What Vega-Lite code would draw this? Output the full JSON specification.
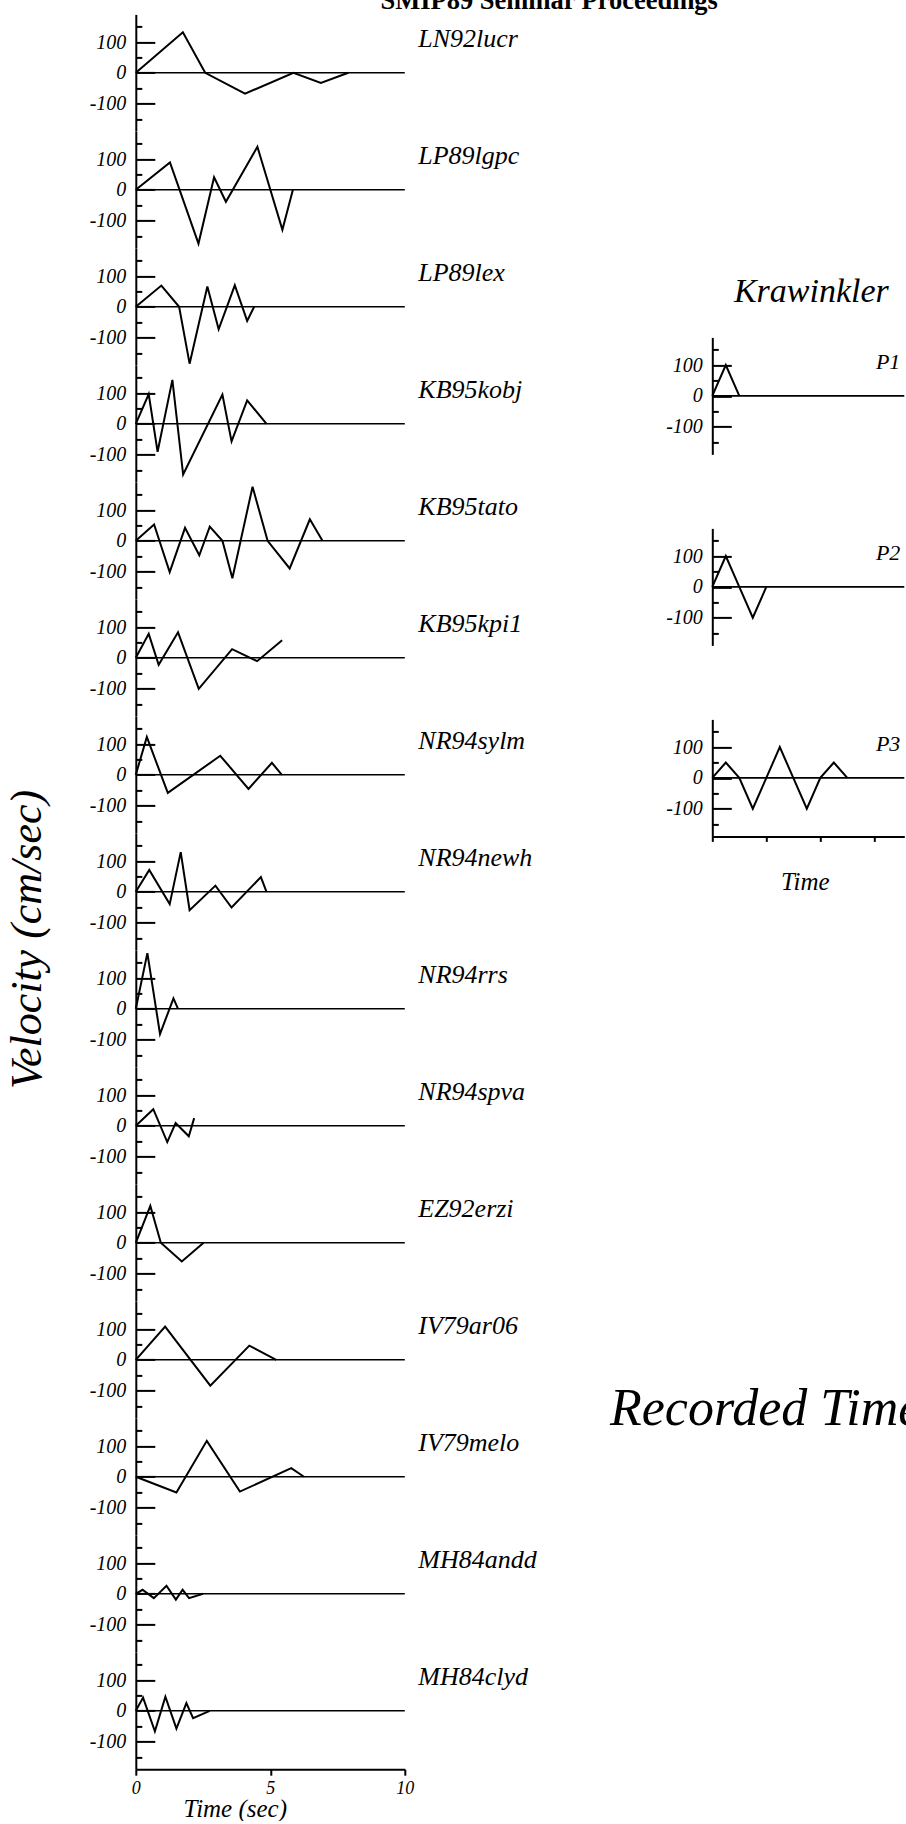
{
"$schema":"https://vega.github.io/schema/vega-lite/v6.json",
"padding":{"left":4.8,"top":-12.6,"right":0,"bottom":0},
"autosize":{"type":"pad"},
"background":"white",
"title":{"text":"SMIP89 Seminar Proceedings","anchor":"start","frame":"bounds","fontSize":26.5,"fontWeight":"bold","font":"Liberation Serif","color":"black","baseline":"alphabetic","offset":-20.8,"dx":375.2},
"datasets":{
"left":[
{"s":"LN92lucr","t":0,"v":0},{"s":"LN92lucr","t":1.75,"v":132},{"s":"LN92lucr","t":2.58,"v":0},{"s":"LN92lucr","t":4.06,"v":-68},{"s":"LN92lucr","t":5.86,"v":0},{"s":"LN92lucr","t":6.88,"v":-33},{"s":"LN92lucr","t":7.9,"v":0},
{"s":"LP89lgpc","t":0,"v":0},{"s":"LP89lgpc","t":1.27,"v":89},{"s":"LP89lgpc","t":2.33,"v":-175},{"s":"LP89lgpc","t":2.91,"v":41},{"s":"LP89lgpc","t":3.35,"v":-39},{"s":"LP89lgpc","t":4.52,"v":140},{"s":"LP89lgpc","t":5.45,"v":-130},{"s":"LP89lgpc","t":5.84,"v":0},
{"s":"LP89lex","t":0,"v":0},{"s":"LP89lex","t":0.95,"v":69},{"s":"LP89lex","t":1.61,"v":0},{"s":"LP89lex","t":2.0,"v":-185},{"s":"LP89lex","t":2.66,"v":66},{"s":"LP89lex","t":3.08,"v":-73},{"s":"LP89lex","t":3.68,"v":70},{"s":"LP89lex","t":4.14,"v":-46},{"s":"LP89lex","t":4.4,"v":0},
{"s":"KB95kobj","t":0,"v":0},{"s":"KB95kobj","t":0.48,"v":97},{"s":"KB95kobj","t":0.81,"v":-91},{"s":"KB95kobj","t":1.36,"v":143},{"s":"KB95kobj","t":1.76,"v":-165},{"s":"KB95kobj","t":3.22,"v":95},{"s":"KB95kobj","t":3.56,"v":-57},{"s":"KB95kobj","t":4.14,"v":76},{"s":"KB95kobj","t":4.86,"v":0},
{"s":"KB95tato","t":0,"v":0},{"s":"KB95tato","t":0.68,"v":53},{"s":"KB95tato","t":1.26,"v":-102},{"s":"KB95tato","t":1.83,"v":42},{"s":"KB95tato","t":2.36,"v":-47},{"s":"KB95tato","t":2.75,"v":46},{"s":"KB95tato","t":3.22,"v":0},{"s":"KB95tato","t":3.59,"v":-122},{"s":"KB95tato","t":4.34,"v":176},{"s":"KB95tato","t":4.9,"v":0},{"s":"KB95tato","t":5.72,"v":-90},{"s":"KB95tato","t":6.47,"v":70},{"s":"KB95tato","t":6.94,"v":0},
{"s":"KB95kpi1","t":0,"v":0},{"s":"KB95kpi1","t":0.48,"v":78},{"s":"KB95kpi1","t":0.85,"v":-23},{"s":"KB95kpi1","t":1.57,"v":83},{"s":"KB95kpi1","t":2.34,"v":-101},{"s":"KB95kpi1","t":3.58,"v":28},{"s":"KB95kpi1","t":4.51,"v":-11},{"s":"KB95kpi1","t":5.44,"v":57},
{"s":"NR94sylm","t":0,"v":0},{"s":"NR94sylm","t":0.41,"v":123},{"s":"NR94sylm","t":1.19,"v":-59},{"s":"NR94sylm","t":3.14,"v":62},{"s":"NR94sylm","t":4.19,"v":-46},{"s":"NR94sylm","t":5.06,"v":39},{"s":"NR94sylm","t":5.43,"v":0},
{"s":"NR94newh","t":0,"v":0},{"s":"NR94newh","t":0.5,"v":71},{"s":"NR94newh","t":1.26,"v":-40},{"s":"NR94newh","t":1.67,"v":129},{"s":"NR94newh","t":2.0,"v":-60},{"s":"NR94newh","t":2.96,"v":20},{"s":"NR94newh","t":3.56,"v":-51},{"s":"NR94newh","t":4.65,"v":48},{"s":"NR94newh","t":4.86,"v":0},
{"s":"NR94rrs","t":0,"v":0},{"s":"NR94rrs","t":0.43,"v":181},{"s":"NR94rrs","t":0.9,"v":-82},{"s":"NR94rrs","t":1.4,"v":34},{"s":"NR94rrs","t":1.57,"v":0},
{"s":"NR94spva","t":0,"v":0},{"s":"NR94spva","t":0.65,"v":54},{"s":"NR94spva","t":1.17,"v":-53},{"s":"NR94spva","t":1.48,"v":9},{"s":"NR94spva","t":1.97,"v":-34},{"s":"NR94spva","t":2.17,"v":25},
{"s":"EZ92erzi","t":0,"v":0},{"s":"EZ92erzi","t":0.54,"v":120},{"s":"EZ92erzi","t":0.93,"v":0},{"s":"EZ92erzi","t":1.71,"v":-61},{"s":"EZ92erzi","t":2.52,"v":0},
{"s":"IV79ar06","t":0,"v":0},{"s":"IV79ar06","t":1.09,"v":108},{"s":"IV79ar06","t":2.77,"v":-84},{"s":"IV79ar06","t":4.22,"v":46},{"s":"IV79ar06","t":5.22,"v":0},
{"s":"IV79melo","t":0,"v":0},{"s":"IV79melo","t":1.51,"v":-51},{"s":"IV79melo","t":2.64,"v":117},{"s":"IV79melo","t":3.87,"v":-48},{"s":"IV79melo","t":5.78,"v":28},{"s":"IV79melo","t":6.25,"v":0},
{"s":"MH84andd","t":0,"v":0},{"s":"MH84andd","t":0.25,"v":13},{"s":"MH84andd","t":0.67,"v":-14},{"s":"MH84andd","t":1.14,"v":26},{"s":"MH84andd","t":1.49,"v":-19},{"s":"MH84andd","t":1.74,"v":13},{"s":"MH84andd","t":1.98,"v":-14},{"s":"MH84andd","t":2.5,"v":0},
{"s":"MH84clyd","t":0,"v":0},{"s":"MH84clyd","t":0.27,"v":43},{"s":"MH84clyd","t":0.71,"v":-67},{"s":"MH84clyd","t":1.1,"v":46},{"s":"MH84clyd","t":1.51,"v":-58},{"s":"MH84clyd","t":1.88,"v":25},{"s":"MH84clyd","t":2.13,"v":-24},{"s":"MH84clyd","t":2.75,"v":0}
],
"right":[
{"p":"P1","u":0,"v":0},{"p":"P1","u":0.25,"v":100},{"p":"P1","u":0.5,"v":0},
{"p":"P2","u":0,"v":0},{"p":"P2","u":0.25,"v":100},{"p":"P2","u":0.5,"v":0},{"p":"P2","u":0.75,"v":-100},{"p":"P2","u":1.0,"v":0},
{"p":"P3","u":0,"v":0},{"p":"P3","u":0.25,"v":50},{"p":"P3","u":0.5,"v":0},{"p":"P3","u":0.75,"v":-100},{"p":"P3","u":1.0,"v":0},{"p":"P3","u":1.25,"v":100},{"p":"P3","u":1.5,"v":0},{"p":"P3","u":1.75,"v":-100},{"p":"P3","u":2.0,"v":0},{"p":"P3","u":2.25,"v":50},{"p":"P3","u":2.5,"v":0}
]
},
"hconcat":[
{"vconcat":[
{"width":269,"height":116.8,"data":{"name":"left"},"transform":[{"filter":"datum.s == 'LN92lucr'"}],
"encoding":{"x":{"field":"t","type":"quantitative","scale":{"domain":[0,10],"nice":false},"axis":null},"y":{"field":"v","type":"quantitative","scale":{"domain":[-190,190],"nice":false},"axis":{"title":null,"values":[-150,-100,-50,0,50,100,150],"labelExpr":"datum.value % 100 == 0 ? '' + datum.value : ''","tickSize":{"condition":{"test":"datum.value % 100 == 0","value":-19},"value":-6},"labelPadding":29}}},
"layer":[{"mark":"line"},{"transform":[{"filter":"datum.t == 0"}],"mark":"rule","encoding":{"x2":{"datum":10}}},{"transform":[{"filter":"datum.t == 0"}],"mark":{"type":"text","align":"left","baseline":"alphabetic","fontSize":26,"dx":282.5,"dy":-25.8},"encoding":{"text":{"field":"s"}}}]},
{"width":269,"height":116.8,"data":{"name":"left"},"transform":[{"filter":"datum.s == 'LP89lgpc'"}],
"encoding":{"x":{"field":"t","type":"quantitative","scale":{"domain":[0,10],"nice":false},"axis":null},"y":{"field":"v","type":"quantitative","scale":{"domain":[-190,190],"nice":false},"axis":{"title":null,"values":[-150,-100,-50,0,50,100,150],"labelExpr":"datum.value % 100 == 0 ? '' + datum.value : ''","tickSize":{"condition":{"test":"datum.value % 100 == 0","value":-19},"value":-6},"labelPadding":29}}},
"layer":[{"mark":"line"},{"transform":[{"filter":"datum.t == 0"}],"mark":"rule","encoding":{"x2":{"datum":10}}},{"transform":[{"filter":"datum.t == 0"}],"mark":{"type":"text","align":"left","baseline":"alphabetic","fontSize":26,"dx":282.5,"dy":-25.8},"encoding":{"text":{"field":"s"}}}]},
{"width":269,"height":116.8,"data":{"name":"left"},"transform":[{"filter":"datum.s == 'LP89lex'"}],
"encoding":{"x":{"field":"t","type":"quantitative","scale":{"domain":[0,10],"nice":false},"axis":null},"y":{"field":"v","type":"quantitative","scale":{"domain":[-190,190],"nice":false},"axis":{"title":null,"values":[-150,-100,-50,0,50,100,150],"labelExpr":"datum.value % 100 == 0 ? '' + datum.value : ''","tickSize":{"condition":{"test":"datum.value % 100 == 0","value":-19},"value":-6},"labelPadding":29}}},
"layer":[{"mark":"line"},{"transform":[{"filter":"datum.t == 0"}],"mark":"rule","encoding":{"x2":{"datum":10}}},{"transform":[{"filter":"datum.t == 0"}],"mark":{"type":"text","align":"left","baseline":"alphabetic","fontSize":26,"dx":282.5,"dy":-25.8},"encoding":{"text":{"field":"s"}}}]},
{"width":269,"height":116.8,"data":{"name":"left"},"transform":[{"filter":"datum.s == 'KB95kobj'"}],
"encoding":{"x":{"field":"t","type":"quantitative","scale":{"domain":[0,10],"nice":false},"axis":null},"y":{"field":"v","type":"quantitative","scale":{"domain":[-190,190],"nice":false},"axis":{"title":null,"values":[-150,-100,-50,0,50,100,150],"labelExpr":"datum.value % 100 == 0 ? '' + datum.value : ''","tickSize":{"condition":{"test":"datum.value % 100 == 0","value":-19},"value":-6},"labelPadding":29}}},
"layer":[{"mark":"line"},{"transform":[{"filter":"datum.t == 0"}],"mark":"rule","encoding":{"x2":{"datum":10}}},{"transform":[{"filter":"datum.t == 0"}],"mark":{"type":"text","align":"left","baseline":"alphabetic","fontSize":26,"dx":282.5,"dy":-25.8},"encoding":{"text":{"field":"s"}}}]},
{"width":269,"height":116.8,"data":{"name":"left"},"transform":[{"filter":"datum.s == 'KB95tato'"}],
"encoding":{"x":{"field":"t","type":"quantitative","scale":{"domain":[0,10],"nice":false},"axis":null},"y":{"field":"v","type":"quantitative","scale":{"domain":[-190,190],"nice":false},"axis":{"title":null,"values":[-150,-100,-50,0,50,100,150],"labelExpr":"datum.value % 100 == 0 ? '' + datum.value : ''","tickSize":{"condition":{"test":"datum.value % 100 == 0","value":-19},"value":-6},"labelPadding":29}}},
"layer":[{"mark":"line"},{"transform":[{"filter":"datum.t == 0"}],"mark":"rule","encoding":{"x2":{"datum":10}}},{"transform":[{"filter":"datum.t == 0"}],"mark":{"type":"text","align":"left","baseline":"alphabetic","fontSize":26,"dx":282.5,"dy":-25.8},"encoding":{"text":{"field":"s"}}}]},
{"width":269,"height":116.8,"data":{"name":"left"},"transform":[{"filter":"datum.s == 'KB95kpi1'"}],
"encoding":{"x":{"field":"t","type":"quantitative","scale":{"domain":[0,10],"nice":false},"axis":null},"y":{"field":"v","type":"quantitative","scale":{"domain":[-190,190],"nice":false},"axis":{"title":null,"values":[-150,-100,-50,0,50,100,150],"labelExpr":"datum.value % 100 == 0 ? '' + datum.value : ''","tickSize":{"condition":{"test":"datum.value % 100 == 0","value":-19},"value":-6},"labelPadding":29}}},
"layer":[{"mark":"line"},{"transform":[{"filter":"datum.t == 0"}],"mark":"rule","encoding":{"x2":{"datum":10}}},{"transform":[{"filter":"datum.t == 0"}],"mark":{"type":"text","align":"left","baseline":"alphabetic","fontSize":26,"dx":282.5,"dy":-25.8},"encoding":{"text":{"field":"s"}}}]},
{"width":269,"height":116.8,"data":{"name":"left"},"transform":[{"filter":"datum.s == 'NR94sylm'"}],
"encoding":{"x":{"field":"t","type":"quantitative","scale":{"domain":[0,10],"nice":false},"axis":null},"y":{"field":"v","type":"quantitative","scale":{"domain":[-190,190],"nice":false},"axis":{"title":null,"values":[-150,-100,-50,0,50,100,150],"labelExpr":"datum.value % 100 == 0 ? '' + datum.value : ''","tickSize":{"condition":{"test":"datum.value % 100 == 0","value":-19},"value":-6},"labelPadding":29}}},
"layer":[{"mark":"line"},{"transform":[{"filter":"datum.t == 0"}],"mark":"rule","encoding":{"x2":{"datum":10}}},{"transform":[{"filter":"datum.t == 0"}],"mark":{"type":"text","align":"left","baseline":"alphabetic","fontSize":26,"dx":282.5,"dy":-25.8},"encoding":{"text":{"field":"s"}}}]},
{"width":269,"height":116.8,"data":{"name":"left"},"transform":[{"filter":"datum.s == 'NR94newh'"}],
"encoding":{"x":{"field":"t","type":"quantitative","scale":{"domain":[0,10],"nice":false},"axis":null},"y":{"field":"v","type":"quantitative","scale":{"domain":[-190,190],"nice":false},"axis":{"title":null,"values":[-150,-100,-50,0,50,100,150],"labelExpr":"datum.value % 100 == 0 ? '' + datum.value : ''","tickSize":{"condition":{"test":"datum.value % 100 == 0","value":-19},"value":-6},"labelPadding":29}}},
"layer":[{"mark":"line"},{"transform":[{"filter":"datum.t == 0"}],"mark":"rule","encoding":{"x2":{"datum":10}}},{"transform":[{"filter":"datum.t == 0"}],"mark":{"type":"text","align":"left","baseline":"alphabetic","fontSize":26,"dx":282.5,"dy":-25.8},"encoding":{"text":{"field":"s"}}}]},
{"width":269,"height":116.8,"data":{"name":"left"},"transform":[{"filter":"datum.s == 'NR94rrs'"}],
"encoding":{"x":{"field":"t","type":"quantitative","scale":{"domain":[0,10],"nice":false},"axis":null},"y":{"field":"v","type":"quantitative","scale":{"domain":[-190,190],"nice":false},"axis":{"title":"Velocity (cm/sec)","titleFontSize":44,"titleAngle":270,"titleX":-95.5,"titleY":-11.4,"titleAlign":"center","titleBaseline":"alphabetic","values":[-150,-100,-50,0,50,100,150],"labelExpr":"datum.value % 100 == 0 ? '' + datum.value : ''","tickSize":{"condition":{"test":"datum.value % 100 == 0","value":-19},"value":-6},"labelPadding":29}}},
"layer":[{"mark":"line"},{"transform":[{"filter":"datum.t == 0"}],"mark":"rule","encoding":{"x2":{"datum":10}}},{"transform":[{"filter":"datum.t == 0"}],"mark":{"type":"text","align":"left","baseline":"alphabetic","fontSize":26,"dx":282.5,"dy":-25.8},"encoding":{"text":{"field":"s"}}}]},
{"width":269,"height":116.8,"data":{"name":"left"},"transform":[{"filter":"datum.s == 'NR94spva'"}],
"encoding":{"x":{"field":"t","type":"quantitative","scale":{"domain":[0,10],"nice":false},"axis":null},"y":{"field":"v","type":"quantitative","scale":{"domain":[-190,190],"nice":false},"axis":{"title":null,"values":[-150,-100,-50,0,50,100,150],"labelExpr":"datum.value % 100 == 0 ? '' + datum.value : ''","tickSize":{"condition":{"test":"datum.value % 100 == 0","value":-19},"value":-6},"labelPadding":29}}},
"layer":[{"mark":"line"},{"transform":[{"filter":"datum.t == 0"}],"mark":"rule","encoding":{"x2":{"datum":10}}},{"transform":[{"filter":"datum.t == 0"}],"mark":{"type":"text","align":"left","baseline":"alphabetic","fontSize":26,"dx":282.5,"dy":-25.8},"encoding":{"text":{"field":"s"}}}]},
{"width":269,"height":116.8,"data":{"name":"left"},"transform":[{"filter":"datum.s == 'EZ92erzi'"}],
"encoding":{"x":{"field":"t","type":"quantitative","scale":{"domain":[0,10],"nice":false},"axis":null},"y":{"field":"v","type":"quantitative","scale":{"domain":[-190,190],"nice":false},"axis":{"title":null,"values":[-150,-100,-50,0,50,100,150],"labelExpr":"datum.value % 100 == 0 ? '' + datum.value : ''","tickSize":{"condition":{"test":"datum.value % 100 == 0","value":-19},"value":-6},"labelPadding":29}}},
"layer":[{"mark":"line"},{"transform":[{"filter":"datum.t == 0"}],"mark":"rule","encoding":{"x2":{"datum":10}}},{"transform":[{"filter":"datum.t == 0"}],"mark":{"type":"text","align":"left","baseline":"alphabetic","fontSize":26,"dx":282.5,"dy":-25.8},"encoding":{"text":{"field":"s"}}}]},
{"width":269,"height":116.8,"data":{"name":"left"},"transform":[{"filter":"datum.s == 'IV79ar06'"}],
"encoding":{"x":{"field":"t","type":"quantitative","scale":{"domain":[0,10],"nice":false},"axis":null},"y":{"field":"v","type":"quantitative","scale":{"domain":[-190,190],"nice":false},"axis":{"title":null,"values":[-150,-100,-50,0,50,100,150],"labelExpr":"datum.value % 100 == 0 ? '' + datum.value : ''","tickSize":{"condition":{"test":"datum.value % 100 == 0","value":-19},"value":-6},"labelPadding":29}}},
"layer":[{"mark":"line"},{"transform":[{"filter":"datum.t == 0"}],"mark":"rule","encoding":{"x2":{"datum":10}}},{"transform":[{"filter":"datum.t == 0"}],"mark":{"type":"text","align":"left","baseline":"alphabetic","fontSize":26,"dx":282.5,"dy":-25.8},"encoding":{"text":{"field":"s"}}}]},
{"width":269,"height":116.8,"data":{"name":"left"},"transform":[{"filter":"datum.s == 'IV79melo'"}],
"encoding":{"x":{"field":"t","type":"quantitative","scale":{"domain":[0,10],"nice":false},"axis":null},"y":{"field":"v","type":"quantitative","scale":{"domain":[-190,190],"nice":false},"axis":{"title":null,"values":[-150,-100,-50,0,50,100,150],"labelExpr":"datum.value % 100 == 0 ? '' + datum.value : ''","tickSize":{"condition":{"test":"datum.value % 100 == 0","value":-19},"value":-6},"labelPadding":29}}},
"layer":[{"mark":"line"},{"transform":[{"filter":"datum.t == 0"}],"mark":"rule","encoding":{"x2":{"datum":10}}},{"transform":[{"filter":"datum.t == 0"}],"mark":{"type":"text","align":"left","baseline":"alphabetic","fontSize":26,"dx":282.5,"dy":-25.8},"encoding":{"text":{"field":"s"}}}]},
{"width":269,"height":116.8,"data":{"name":"left"},"transform":[{"filter":"datum.s == 'MH84andd'"}],
"encoding":{"x":{"field":"t","type":"quantitative","scale":{"domain":[0,10],"nice":false},"axis":null},"y":{"field":"v","type":"quantitative","scale":{"domain":[-190,190],"nice":false},"axis":{"title":null,"values":[-150,-100,-50,0,50,100,150],"labelExpr":"datum.value % 100 == 0 ? '' + datum.value : ''","tickSize":{"condition":{"test":"datum.value % 100 == 0","value":-19},"value":-6},"labelPadding":29}}},
"layer":[{"mark":"line"},{"transform":[{"filter":"datum.t == 0"}],"mark":"rule","encoding":{"x2":{"datum":10}}},{"transform":[{"filter":"datum.t == 0"}],"mark":{"type":"text","align":"left","baseline":"alphabetic","fontSize":26,"dx":282.5,"dy":-25.8},"encoding":{"text":{"field":"s"}}}]},
{"width":269,"height":116.8,"data":{"name":"left"},"transform":[{"filter":"datum.s == 'MH84clyd'"}],
"encoding":{"x":{"field":"t","type":"quantitative","scale":{"domain":[0,10],"nice":false},"axis":{"title":"Time (sec)","values":[0,5,10],"tickSize":6,"labelFontSize":18,"labelFlush":false,"labelPadding":4,"titleFontSize":25,"titleX":99,"titleY":47,"titleBaseline":"alphabetic","titleAlign":"center"}},"y":{"field":"v","type":"quantitative","scale":{"domain":[-190,190],"nice":false},"axis":{"title":null,"values":[-150,-100,-50,0,50,100,150],"labelExpr":"datum.value % 100 == 0 ? '' + datum.value : ''","tickSize":{"condition":{"test":"datum.value % 100 == 0","value":-19},"value":-6},"labelPadding":29}}},
"layer":[{"mark":"line"},{"transform":[{"filter":"datum.t == 0"}],"mark":"rule","encoding":{"x2":{"datum":10}}},{"transform":[{"filter":"datum.t == 0"}],"mark":{"type":"text","align":"left","baseline":"alphabetic","fontSize":26,"dx":282.5,"dy":-25.8},"encoding":{"text":{"field":"s"}}}]}
],"spacing":0,"bounds":"flush"},
{"vconcat":[
{"width":192,"height":248.2,"data":{"values":[]},"mark":"point",
"title":{"text":"Krawinkler","orient":"bottom","anchor":"middle","frame":"group","offset":39.5,"baseline":"alphabetic","fontSize":34,"font":"Liberation Serif","fontStyle":"italic","fontWeight":"normal","color":"black","dx":3}},
{"width":192,"height":73.2,"data":{"values":[]},"mark":"point"},
{"width":192,"height":117,"data":{"name":"right"},"transform":[{"filter":"datum.p == 'P1'"}],
"encoding":{"x":{"field":"u","type":"quantitative","scale":{"domain":[0,3.555],"nice":false},"axis":null},"y":{"field":"v","type":"quantitative","scale":{"domain":[-190,190],"nice":false},"axis":{"title":null,"values":[-150,-100,-50,0,50,100,150],"labelExpr":"datum.value % 100 == 0 ? '' + datum.value : ''","tickSize":{"condition":{"test":"datum.value % 100 == 0","value":-19},"value":-6},"labelPadding":29}}},
"layer":[{"mark":"line"},{"transform":[{"filter":"datum.u == 0"}],"mark":"rule","encoding":{"x2":{"datum":3.555}}},{"transform":[{"filter":"datum.u == 0"}],"mark":{"type":"text","align":"left","baseline":"alphabetic","fontSize":22,"dx":163.6,"dy":-26.7},"encoding":{"text":{"field":"p"}}}]},
{"width":192,"height":73.2,"data":{"values":[]},"mark":"point"},
{"width":192,"height":117,"data":{"name":"right"},"transform":[{"filter":"datum.p == 'P2'"}],
"encoding":{"x":{"field":"u","type":"quantitative","scale":{"domain":[0,3.555],"nice":false},"axis":null},"y":{"field":"v","type":"quantitative","scale":{"domain":[-190,190],"nice":false},"axis":{"title":null,"values":[-150,-100,-50,0,50,100,150],"labelExpr":"datum.value % 100 == 0 ? '' + datum.value : ''","tickSize":{"condition":{"test":"datum.value % 100 == 0","value":-19},"value":-6},"labelPadding":29}}},
"layer":[{"mark":"line"},{"transform":[{"filter":"datum.u == 0"}],"mark":"rule","encoding":{"x2":{"datum":3.555}}},{"transform":[{"filter":"datum.u == 0"}],"mark":{"type":"text","align":"left","baseline":"alphabetic","fontSize":22,"dx":163.6,"dy":-26.7},"encoding":{"text":{"field":"p"}}}]},
{"width":192,"height":73.2,"data":{"values":[]},"mark":"point"},
{"width":192,"height":117,"data":{"name":"right"},"transform":[{"filter":"datum.p == 'P3'"}],
"encoding":{"x":{"field":"u","type":"quantitative","scale":{"domain":[0,3.555],"nice":false},"axis":{"title":null,"values":[0,1,2,3],"labels":false,"tickSize":5}},"y":{"field":"v","type":"quantitative","scale":{"domain":[-190,190],"nice":false},"axis":{"title":null,"values":[-150,-100,-50,0,50,100,150],"labelExpr":"datum.value % 100 == 0 ? '' + datum.value : ''","tickSize":{"condition":{"test":"datum.value % 100 == 0","value":-19},"value":-6},"labelPadding":29}}},
"layer":[{"mark":"line"},{"transform":[{"filter":"datum.u == 0"}],"mark":"rule","encoding":{"x2":{"datum":3.555}}},{"transform":[{"filter":"datum.u == 0"}],"mark":{"type":"text","align":"left","baseline":"alphabetic","fontSize":22,"dx":163.6,"dy":-26.7},"encoding":{"text":{"field":"p"}}},{"transform":[{"filter":"datum.u == 0"}],"mark":{"type":"text","align":"center","baseline":"alphabetic","fontSize":25,"dx":93,"dy":112.4},"encoding":{"text":{"value":"Time"}}}]},
{"width":192,"height":588.9,"data":{"values":[]},"mark":"point",
"title":{"text":"Recorded Time","orient":"bottom","anchor":"start","frame":"group","offset":0,"baseline":"alphabetic","fontSize":52,"font":"Liberation Serif","fontStyle":"italic","fontWeight":"normal","color":"black","dx":-102.3}}
],"spacing":0,"bounds":"flush"}
],
"spacing":576.5,
"bounds":"flush",
"config":{
"view":{"stroke":null},
"axis":{"domainColor":"black","domainWidth":2,"tickColor":"black","tickWidth":2,"labelColor":"black","labelFont":"Liberation Serif","labelFontStyle":"italic","labelFontSize":20,"labelFontWeight":"normal","titleFont":"Liberation Serif","titleFontStyle":"italic","titleFontWeight":"normal","titleColor":"black","grid":false},
"text":{"font":"Liberation Serif","fontStyle":"italic","color":"black"},
"line":{"color":"black","strokeWidth":2},
"rule":{"color":"black","strokeWidth":1.6}
}
}
